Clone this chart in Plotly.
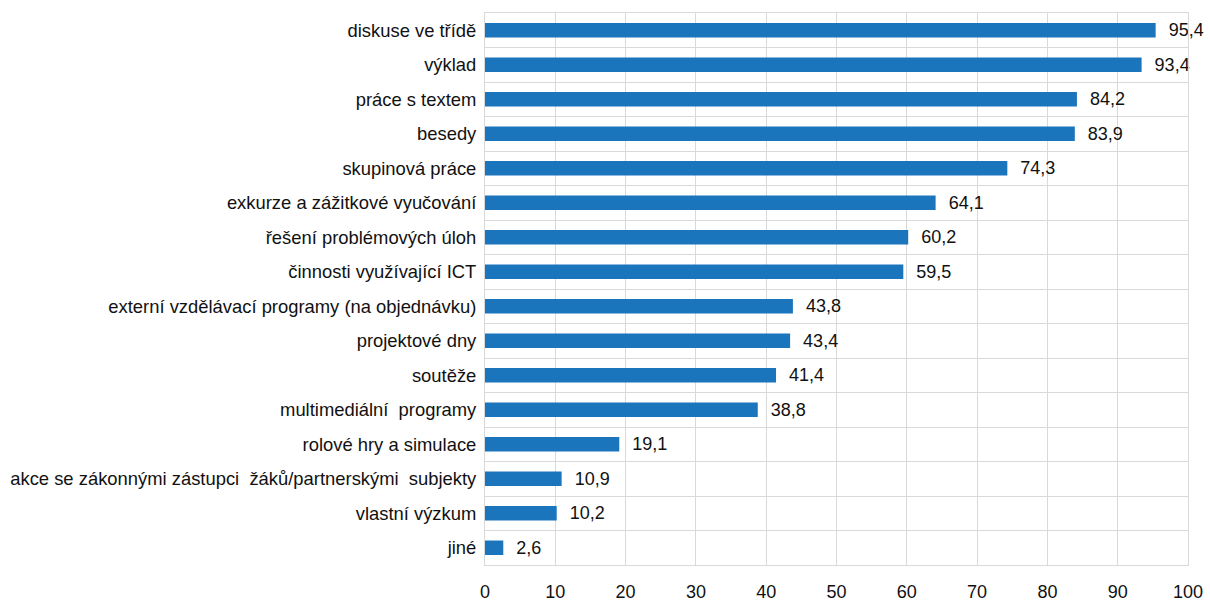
import plotly.graph_objects as go

categories = [
    "diskuse ve třídě", "výklad", "práce s textem", "besedy", "skupinová práce",
    "exkurze a zážitkové vyučování", "řešení problémových úloh",
    "činnosti využívající ICT", "externí vzdělávací programy (na objednávku)",
    "projektové dny", "soutěže", "multimediální\u00a0 programy",
    "rolové hry a simulace", "akce se zákonnými zástupci\u00a0 žáků/partnerskými\u00a0 subjekty",
    "vlastní výzkum", "jiné",
]
values = [95.4, 93.4, 84.2, 83.9, 74.3, 64.1, 60.2, 59.5, 43.8, 43.4, 41.4, 38.8, 19.1, 10.9, 10.2, 2.6]
x_ticks = [0, 10, 20, 30, 40, 50, 60, 70, 80, 90, 100]

FONT = "Liberation Sans Narrow, Liberation Sans, Arial, sans-serif"

fig = go.Figure(go.Bar(
    y=categories, x=values, orientation="h",
    marker=dict(color="#1B75BC", line=dict(width=0)),
    width=0.42,
    text=["\u00a0\u00a0" + f"{v:.1f}".replace(".", ",") for v in values],
    textposition="outside", cliponaxis=False, constraintext="none",
    textfont=dict(family=FONT, size=18, color="#111111"),
    hoverinfo="skip",
))

fig.update_layout(
    width=1210, height=608,
    margin=dict(l=485, r=22, t=13, b=43),
    paper_bgcolor="white", plot_bgcolor="white",
    showlegend=False,
    font=dict(family=FONT, size=18, color="#111111"),
    separators=", ",
)
fig.update_xaxes(
    range=[0, 100], tickvals=x_ticks, showgrid=True, gridcolor="#d9d9d9", gridwidth=1,
    zeroline=False, showline=True, linecolor="#d9d9d9", mirror=True,
    ticks="", ticklabelstandoff=10, tickfont=dict(size=18), automargin=False,
)
fig.update_yaxes(
    categoryorder="array", categoryarray=categories[::-1],
    tickson="boundaries", showgrid=True, gridcolor="#d9d9d9", gridwidth=1,
    showline=True, linecolor="#d9d9d9", mirror=True, ticks="",
    ticklabelstandoff=4, tickfont=dict(size=18.4), automargin=False,
)

fig.write_html(
    "out.html",
    config={"displayModeBar": False},
    post_script="document.body.style.margin='0';document.body.style.padding='0';",
)
